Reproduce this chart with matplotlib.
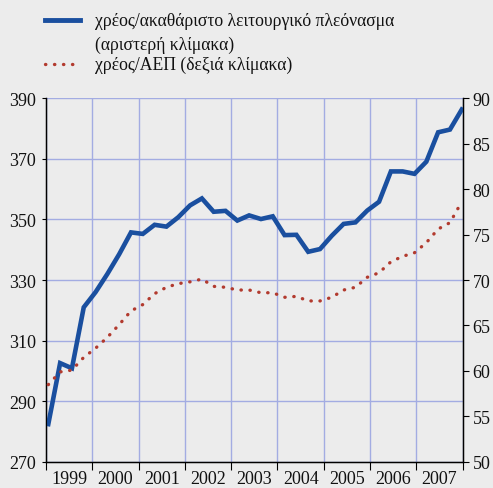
import numpy as np
import matplotlib as mpl
mpl.use('Agg')
import matplotlib.pyplot as plt
from matplotlib.lines import Line2D

plt.rcParams['font.family'] = ['Liberation Serif', 'DejaVu Serif']

# quarterly data 1999Q1 - 2007Q4
years = [1999, 2000, 2001, 2002, 2003, 2004, 2005, 2006, 2007]
debt_gos = [282.5, 302.6, 300.9, 321.0, 326.0, 332.0, 338.5, 345.7,
            345.2, 348.2, 347.6, 350.7, 354.6, 356.9, 352.5, 352.8,
            349.6, 351.3, 350.1, 351.0, 344.8, 344.9, 339.3, 340.2,
            344.6, 348.5, 349.0, 352.9, 355.8, 365.8, 365.8, 365.0,
            369.0, 378.7, 379.6, 386.2]
debt_gdp = [58.5, 59.9, 60.1, 61.5, 62.5, 63.7, 65.1, 66.6,
            67.3, 68.5, 69.2, 69.6, 69.8, 70.1, 69.3, 69.2,
            68.9, 68.9, 68.6, 68.6, 68.1, 68.2, 67.7, 67.7,
            68.1, 68.9, 69.2, 70.3, 70.8, 72.0, 72.6, 73.0,
            74.1, 75.6, 76.3, 78.6]
label_blue = 'χρέος/ακαθάριστο λειτουργικό πλεόνασμα\n(αριστερή κλίμακα)'
label_red = 'χρέος/ΑΕΠ (δεξιά κλίμακα)'

bg = '#ececec'
grid_c = '#a3ace2'
blue = '#1a4f9f'
red = '#b23a2e'
dots = (0, (0.1, 2.6))

fig = plt.figure(figsize=(4.93, 4.89), dpi=100, facecolor=bg)
ax = fig.add_axes([0.0933, 0.0532, 0.8452, 0.7443])
ax.set_facecolor(bg)

x = np.linspace(1999.05, 2007.98, len(debt_gos))
ax.plot(x, debt_gos, color=blue, lw=3.3, solid_joinstyle='miter', zorder=3)
ax.set_xlim(1999, 2008)
ax.set_ylim(270, 390)
ax.set_yticks(range(270, 391, 20))
ax.set_xticks(range(1999, 2009))
ax.set_xticklabels([])
ax.set_xticks([y + 0.5 for y in years], minor=True)
ax.set_xticklabels([str(y) for y in years], minor=True)
ax.tick_params(axis='x', which='major', length=6, direction='out', color='black')
ax.tick_params(axis='x', which='minor', length=0, pad=6, labelsize=13)
ax.tick_params(axis='y', length=3, direction='out', pad=4, labelsize=13)
ax.grid(True, which='major', color=grid_c, lw=1)
ax.spines['top'].set_visible(False)
for s in ['left', 'bottom', 'right']:
    ax.spines[s].set_color('black')
    ax.spines[s].set_linewidth(1)

ax2 = ax.twinx()
ax2.plot(x, debt_gdp, color=red, lw=2.4, linestyle=dots,
         dash_capstyle='round', zorder=3)
ax2.set_ylim(50, 90)
ax2.set_yticks(range(50, 91, 5))
ax2.tick_params(axis='y', length=4, direction='out', labelsize=13, pad=3)
ax2.spines['top'].set_visible(False)
ax2.spines['right'].set_color('black')
for t in ax.get_yticklabels() + ax2.get_yticklabels() + ax.get_xticklabels(minor=True):
    t.set_color('#111111')

# legend
fig.add_artist(Line2D([45/493, 80/493], [1 - 21/489]*2, color=blue, lw=3.5))
fig.text(95/493, 1 - 33.5/489, label_blue, fontsize=12.7, va='center',
         linespacing=1.45, color='#111111')
fig.add_artist(Line2D([45/493, 80/493], [1 - 65/489]*2, color=red, lw=2.4,
                      linestyle=dots, dash_capstyle='round'))
fig.text(95/493, 1 - 65/489, label_red, fontsize=12.7, va='center', color='#111111')

fig.savefig('out.png', dpi=100, facecolor=bg)
